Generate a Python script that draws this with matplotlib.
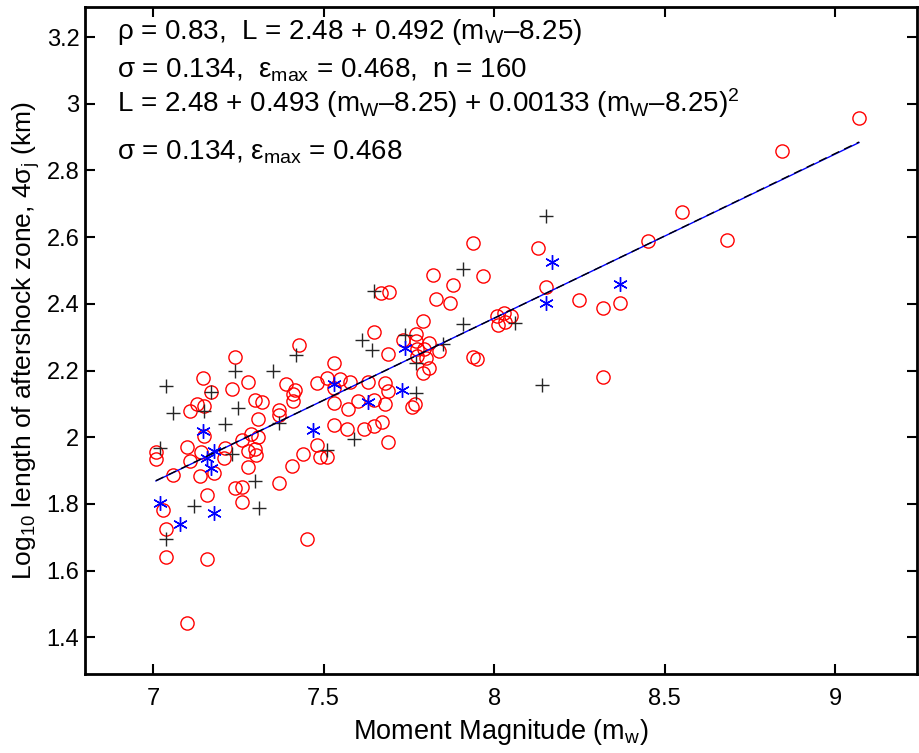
import numpy as np
import matplotlib
matplotlib.use('Agg')
import matplotlib.pyplot as plt

# red circles
circ_x = [7.429, 7.239, 7.147, 7.279, 7.230, 7.169, 7.389, 7.417, 7.410, 7.410,
          7.480, 7.298, 7.320, 7.128, 7.148, 7.108, 7.368, 7.368, 7.308, 7.148,
          7.288, 7.259, 7.308, 7.099, 7.008, 7.008, 7.140, 7.108, 7.210, 7.208,
          7.279, 7.298, 7.301, 7.439, 7.480, 7.408, 7.279, 7.179, 7.138, 7.059,
          7.369, 7.159, 7.239, 7.259, 7.259, 7.028, 7.038, 7.038, 7.159, 7.450,
          7.099, 7.821, 7.968, 7.880, 7.668, 7.691, 7.829, 7.871, 7.790, 7.649,
          7.771, 7.732, 7.771, 7.809, 7.775, 7.795, 7.839, 7.690, 7.800, 7.773,
          7.939, 7.949, 7.809, 7.790, 7.530, 7.509, 7.549, 7.578, 7.629, 7.530,
          7.680, 7.690, 7.530, 7.600, 7.649, 7.681, 7.571, 7.759, 7.769, 7.529,
          7.569, 7.619, 7.649, 7.670, 7.690, 7.490, 7.509, 8.451, 8.129, 8.151,
          8.250, 8.320, 8.370, 8.009, 8.029, 8.048, 8.011, 8.032, 8.320, 9.070,
          8.845, 8.552, 8.683, 7.939]
circ_y = [2.277, 2.242, 2.179, 2.167, 2.144, 2.136, 2.161, 2.142, 2.131, 2.109,
          2.164, 2.111, 2.106, 2.099, 2.094, 2.079, 2.082, 2.066, 2.056, 2.004,
          2.009, 1.991, 2.002, 1.972, 1.957, 1.934, 1.957, 1.929, 1.969, 1.939,
          1.959, 1.964, 1.946, 1.951, 1.976, 1.914, 1.912, 1.894, 1.884, 1.887,
          1.864, 1.827, 1.847, 1.852, 1.807, 1.781, 1.726, 1.642, 1.636, 1.694,
          1.442, 2.487, 2.482, 2.456, 2.432, 2.434, 2.414, 2.401, 2.347, 2.317,
          2.309, 2.292, 2.289, 2.282, 2.266, 2.264, 2.259, 2.249, 2.239, 2.244,
          2.241, 2.234, 2.209, 2.194, 2.224, 2.179, 2.174, 2.167, 2.167, 2.149,
          2.164, 2.139, 2.104, 2.109, 2.112, 2.101, 2.084, 2.092, 2.099, 2.036,
          2.026, 2.024, 2.034, 2.046, 1.987, 1.941, 1.941, 2.589, 2.566, 2.451,
          2.412, 2.386, 2.402, 2.364, 2.372, 2.362, 2.337, 2.346, 2.180, 2.956,
          2.857, 2.675, 2.592, 2.583]

# black plus signs
plus_x = [7.418, 7.239, 7.350, 7.037, 7.169, 7.059, 7.149, 7.249, 7.210, 7.369,
          7.020, 7.230, 7.300, 7.120, 7.310, 7.038, 7.649, 7.910, 7.910, 7.611,
          7.641, 7.739, 7.851, 7.771, 7.771, 7.590, 7.509, 8.151, 8.061, 8.139]
plus_y = [2.247, 2.199, 2.199, 2.154, 2.136, 2.074, 2.079, 2.089, 2.039, 2.042,
          1.969, 1.951, 1.869, 1.794, 1.787, 1.694, 2.439, 2.504, 2.339, 2.292,
          2.261, 2.306, 2.279, 2.222, 2.132, 1.996, 1.962, 2.664, 2.342, 2.157]

# blue asterisks
star_x = [7.147, 7.469, 7.179, 7.158, 7.169, 7.020, 7.080, 7.179, 7.739, 7.530,
          7.629, 7.729, 8.170, 8.151, 8.370]
star_y = [2.019, 2.021, 1.959, 1.939, 1.909, 1.802, 1.741, 1.772, 2.267, 2.159,
          2.107, 2.142, 2.524, 2.403, 2.458]

# fit coefficients
m0 = 8.25
lin = [2.48, 0.492]
quad = [2.48, 0.493, 0.00133]

plt.rcParams['font.family'] = ['Liberation Sans', 'DejaVu Sans']
plt.rcParams['mathtext.fontset'] = 'custom'
plt.rcParams['mathtext.rm'] = 'Liberation Sans'
plt.rcParams['mathtext.it'] = 'Liberation Sans:italic'

fig = plt.figure(figsize=(9.2, 7.53), dpi=100)
ax = fig.add_axes([0.0924, 0.1049, 0.9043, 0.8858])

ax.plot(circ_x, circ_y, 'o', mfc='none', mec='red', ms=9.5, mew=1.0)
ax.plot(plus_x, plus_y, '+', color='0.15', ms=10, mew=1.0)
ax.plot(star_x, star_y, ls='none', marker=(6, 2, 0), color='blue', ms=10.5, mew=1.0)

all_x = np.array(circ_x + plus_x + star_x)
xf = np.linspace(all_x.min(), all_x.max(), 200)
d = xf - m0
ax.plot(xf, lin[0] + lin[1] * d, '-', color='blue', lw=1.0)
ax.plot(xf, quad[0] + quad[1] * d + quad[2] * d ** 2, '--', color='black',
        lw=1.0, dashes=(6, 4))

ax.set_xlim(6.8, 9.24)
ax.set_ylim(1.29, 3.29)
ax.set_xticks([7, 7.5, 8, 8.5, 9])
ax.set_xticklabels(['7', '7.5', '8', '8.5', '9'])
ax.set_yticks([1.4, 1.6, 1.8, 2, 2.2, 2.4, 2.6, 2.8, 3, 3.2])
ax.set_yticklabels(['1.4', '1.6', '1.8', '2', '2.2', '2.4', '2.6', '2.8', '3', '3.2'])
ax.tick_params(direction='in', length=7, width=1.5, labelsize=17,
               top=True, right=True)
ax.tick_params(axis='x', pad=10)
ax.tick_params(axis='y', pad=4)
for s in ax.spines.values():
    s.set_linewidth(2.0)

ax.set_xlabel(r'Moment Magnitude (m$_\mathrm{w}$)', fontsize=19.5)
ax.set_ylabel(r'Log$_{10}$ length of aftershock zone, 4σ$_\mathrm{j}$ (km)', fontsize=19)
ax.xaxis.set_label_coords(0.5, -0.064)
ax.yaxis.set_label_coords(-0.052, 0.5)

tx = 0.039
fs = 20
ax.text(tx, 0.9516, r'ρ = 0.83,  L = 2.48 + 0.492 (m$_\mathrm{W}$–8.25)',
        transform=ax.transAxes, fontsize=fs, va='baseline')
ax.text(tx, 0.8946, r'σ = 0.134,  ε$_\mathrm{max}$ = 0.468,  n = 160',
        transform=ax.transAxes, fontsize=fs, va='baseline')
ax.text(tx, 0.8430, r'L = 2.48 + 0.493 (m$_\mathrm{W}$–8.25) + 0.00133 (m$_\mathrm{W}$–8.25)$^2$',
        transform=ax.transAxes, fontsize=fs, va='baseline')
ax.text(tx, 0.7717, r'σ = 0.134, ε$_\mathrm{max}$ = 0.468',
        transform=ax.transAxes, fontsize=fs, va='baseline')

fig.savefig('out.png', dpi=100)
